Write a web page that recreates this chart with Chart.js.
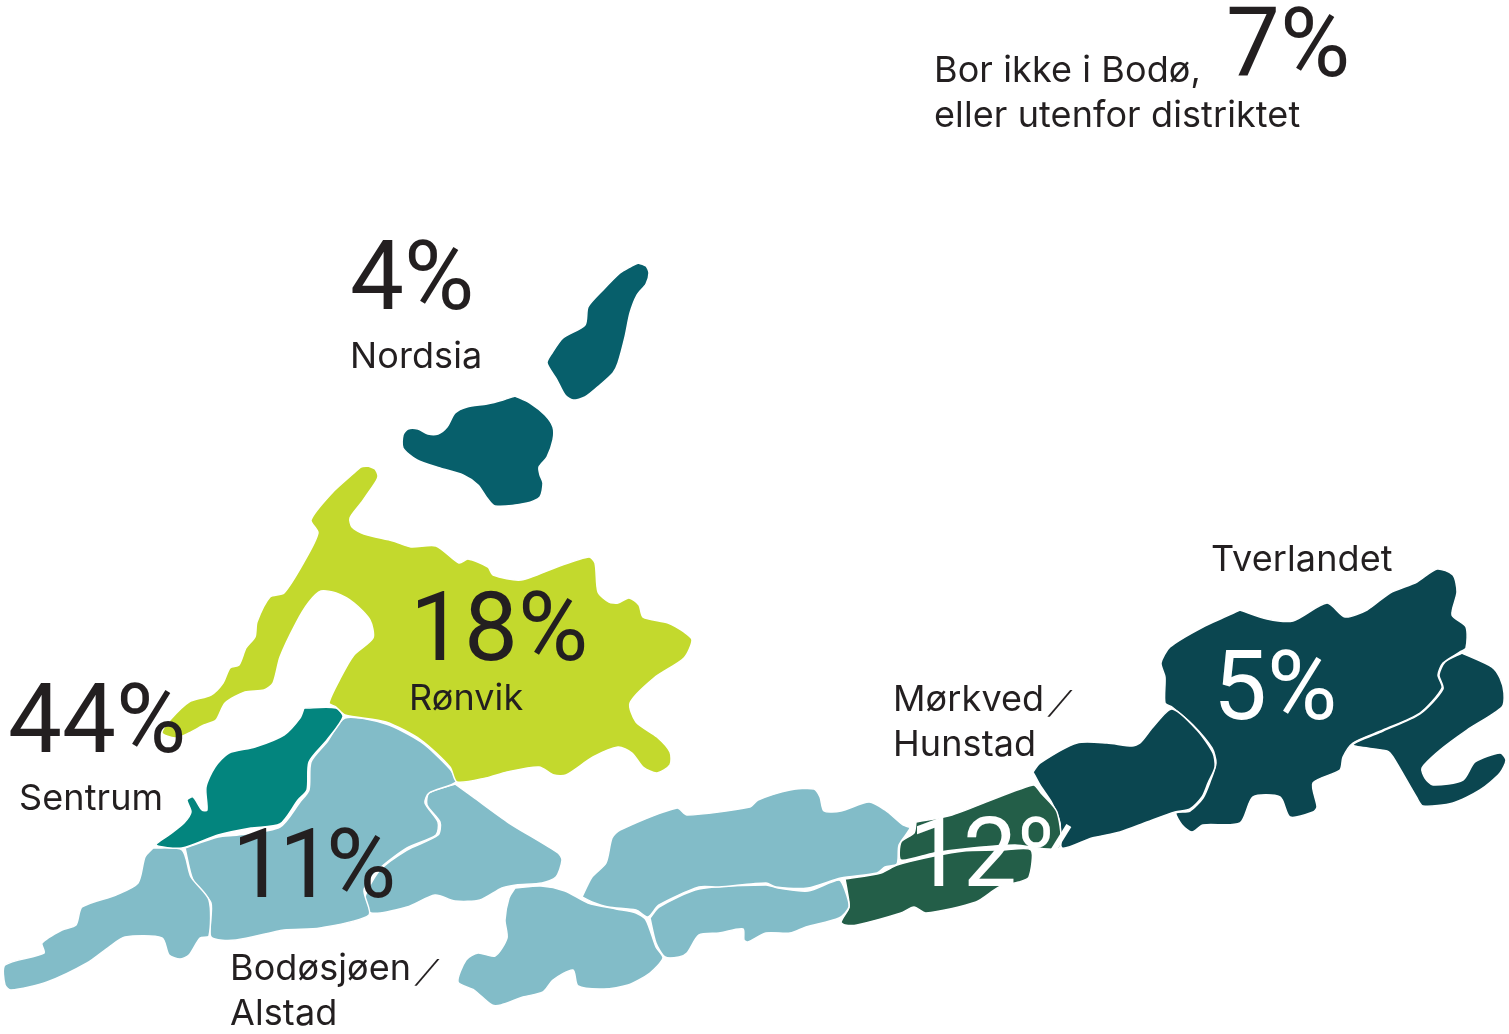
<!DOCTYPE html>
<html>
<head>
<meta charset="utf-8">
<title>Bodø</title>
<script src="https://cdn.jsdelivr.net/npm/chart.js@4"></script>
<style>
  html, body { margin: 0; padding: 0; background: #fff; }
  #wrap { width: 1509px; height: 1034px; }
</style>
</head>
<body>
<div id="wrap"><canvas id="map" width="1509" height="1034"></canvas></div>
<script>
// Outlines, in picture units
const nordsiaNorth = [[638,263],[646,266],[649,273],[646,284],[637,295],[630,313],[625,337],[618,363],[613,373],[600,385],[585,397],[573,400],[565,395],[557,380],[547,363],[552,353],[563,338],[585,325],[588,307],[603,290],[620,273],[630,267]];
const nordsiaSouth = [[515,396],[530,403],[545,415],[553,427],[553,440],[547,457],[539,467],[540,475],[543,483],[540,497],[527,503],[495,506],[487,498],[478,485],[463,475],[440,468],[417,460],[403,448],[403,435],[408,429],[418,429],[428,434],[438,434],[447,427],[455,413],[467,407],[487,404],[503,400]];
const ronvik = [[368,466],[375,469],[378,476],[375,483],[361,503],[350,518],[352,527],[364,534],[393,541],[411,547],[436,546],[459,563],[468,559],[488,567],[493,575],[521,580],[557,567],[589,557],[595,563],[598,592],[609,602],[618,603],[629,598],[639,605],[643,617],[668,623],[684,632],[692,640],[684,658],[654,678],[630,703],[636,722],[657,737],[670,752],[670,765],[657,773],[643,767],[632,753],[618,747],[593,757],[566,775],[554,775],[539,767],[507,772],[486,778],[457,782],[450,767],[421,740],[386,722],[345,715],[336,707],[329,703],[341,677],[354,655],[373,638],[370,620],[354,603],[336,593],[321,591],[309,602],[296,623],[280,657],[273,683],[264,690],[245,692],[225,703],[216,720],[204,725],[189,733],[175,738],[162,733],[170,720],[189,702],[211,695],[223,683],[230,668],[239,665],[246,648],[255,637],[257,622],[270,597],[284,593],[304,562],[318,533],[311,520],[332,493],[354,473],[361,467]];
const sentrum = [[304,708],[336,708],[343,717],[327,740],[309,762],[307,790],[298,800],[280,824],[251,828],[218,835],[182,848],[156,845],[169,835],[184,823],[191,812],[187,800],[193,797],[202,810],[207,810],[206,787],[215,767],[229,753],[255,747],[284,735],[300,718]];
const alstadWest = [[153,848],[182,850],[191,877],[209,900],[209,936],[200,938],[189,955],[180,959],[169,955],[162,938],[125,937],[109,947],[87,963],[47,982],[11,990],[5,985],[5,965],[44,953],[42,943],[62,930],[76,925],[82,907],[116,895],[138,883],[145,857]];
const alstadMid = [[185,848],[218,837],[238,835],[280,827],[300,802],[309,790],[311,762],[327,742],[345,718],[386,724],[421,742],[450,769],[456,782],[429,793],[425,803],[438,822],[436,835],[407,848],[378,870],[364,890],[369,915],[320,928],[284,930],[236,940],[211,937],[211,903],[193,880]];
const alstadEast = [[455,784],[473,797],[509,823],[558,853],[562,860],[556,877],[542,883],[516,885],[502,888],[480,900],[455,901],[435,895],[407,907],[371,913],[365,897],[380,870],[407,850],[438,835],[440,822],[427,805],[429,793]];
const hunstadBlob = [[515,888],[541,886],[565,891],[588,903],[616,909],[636,913],[646,920],[656,947],[663,958],[650,973],[628,985],[604,989],[578,986],[573,970],[553,980],[543,992],[523,997],[501,1005],[492,1005],[474,990],[458,982],[466,960],[478,953],[495,956],[507,938],[505,920],[509,898]];
const hunstadTop = [[582,897],[592,877],[606,863],[612,838],[620,830],[677,808],[687,815],[750,807],[758,800],[790,790],[814,789],[820,797],[824,811],[841,811],[869,802],[885,810],[903,825],[910,828],[899,845],[897,864],[885,867],[877,873],[841,878],[808,888],[776,887],[766,883],[719,887],[699,887],[659,905],[648,917],[636,910],[608,907],[592,902]];
const hunstadStrip = [[650,918],[659,907],[699,889],[766,885],[778,888],[808,891],[839,880],[845,890],[849,907],[839,918],[806,927],[790,933],[766,933],[748,942],[744,940],[743,929],[719,933],[699,935],[687,953],[679,957],[665,957],[656,943]];
const morkvedTop = [[916,822],[952,815],[1033,785],[1041,793],[1057,812],[1059,848],[1015,845],[972,848],[934,853],[901,860],[901,842],[914,833]];
const morkvedLow = [[845,879],[881,873],[897,865],[934,856],[964,851],[1003,850],[1031,850],[1029,877],[1019,882],[999,887],[976,902],[926,913],[914,907],[901,913],[857,925],[845,925],[841,922],[849,907],[847,890]];
const tverWest = [[1033,772],[1040,763],[1077,743],[1107,743],[1132,746],[1140,743],[1153,727],[1172,709],[1197,730],[1213,753],[1215,767],[1208,783],[1202,797],[1190,809],[1175,812],[1147,822],[1120,832],[1092,838],[1062,848],[1060,823],[1052,803],[1040,785]];
const tverMain = [[1240,610],[1267,619],[1293,621],[1327,603],[1345,617],[1367,610],[1390,593],[1417,582],[1437,569],[1453,575],[1457,592],[1452,615],[1466,627],[1466,648],[1460,652],[1443,663],[1438,675],[1442,688],[1420,713],[1383,730],[1353,743],[1343,757],[1340,770],[1313,783],[1317,807],[1313,812],[1290,817],[1280,797],[1253,797],[1240,823],[1203,825],[1192,832],[1182,825],[1176,813],[1190,811],[1203,798],[1210,782],[1216,763],[1212,748],[1193,725],[1172,707],[1165,703],[1165,677],[1161,663],[1170,647],[1203,627]];
const tverEast = [[1462,653],[1492,667],[1500,678],[1504,693],[1502,707],[1467,730],[1440,750],[1422,768],[1425,778],[1433,785],[1463,780],[1475,762],[1500,753],[1506,760],[1500,773],[1480,790],[1453,803],[1423,806],[1417,798],[1393,757],[1387,751],[1353,745],[1383,731],[1420,714],[1443,689],[1439,675],[1445,662]];

// Labels
const bigTexts = ["7%", "4%", "18%", "44%", "11%", "12%", "5%"];
const smallTexts = ["Bor ikke i Bodø,", "eller utenfor distriktet", "Nordsia", "Rønvik", "Sentrum", "Bodøsjøen/", "Alstad", "Mørkved/", "Hunstad", "Tverlandet"];

const BLUE = "#82bcc8";
const shapes = [
  [nordsiaNorth, "#075f6b"], [nordsiaSouth, "#075f6b"],
  [ronvik, "#c3d92d"],
  [sentrum, "#03857e"],
  [alstadWest, BLUE], [alstadMid, BLUE], [alstadEast, BLUE],
  [hunstadBlob, BLUE], [hunstadTop, BLUE], [hunstadStrip, BLUE],
  [morkvedTop, "#235e48"], [morkvedLow, "#235e48"],
  [tverWest, "#0b4650"], [tverMain, "#0b4650"], [tverEast, "#0b4650"]
];

const DARK = "#231f20";
// x, baseline, colour, letter spacing
const bigPlaces = [[1226,76,DARK,"0px"],[350,309,DARK,"0px"],[410,660,DARK,"0px"],[8,752,DARK,"0px"],[232,897,DARK,"-7px"],[909,886,"#fff","0px"],[1213,719,"#fff","0px"]];
const smallPlaces = [[934,82],[934,127],[350,368],[409,710],[19,810],[230,980],[230,1025],[893,711],[893,756],[1211,571]];

// the slash in the source font is wide and flat, so stretch it
function drawLabel(ctx, t, x, y) {
  if (!t.endsWith("/")) {
    ctx.fillText(t, x, y);
    return;
  }
  const word = t.slice(0, -1);
  ctx.fillText(word, x, y);
  const end = x + ctx.measureText(word).width;
  ctx.save();
  ctx.font = "100 36px Inter";
  ctx.translate(end, y + 2);
  ctx.scale(2.7, 0.85);
  ctx.fillText("/", 0, 0);
  ctx.restore();
}

const textPlugin = {
  id: "mapText",
  afterDatasetsDraw(chart) {
    const { ctx, scales } = chart;
    ctx.save();
    ctx.textAlign = "left";
    ctx.textBaseline = "alphabetic";
    ctx.font = "400 96px Roboto";
    bigTexts.forEach((t, i) => {
      ctx.fillStyle = bigPlaces[i][2];
      ctx.letterSpacing = bigPlaces[i][3];
      ctx.fillText(t, scales.x.getPixelForValue(bigPlaces[i][0]), scales.y.getPixelForValue(bigPlaces[i][1]));
    });
    ctx.font = "400 36px Inter";
    ctx.letterSpacing = "0.1px";
    ctx.fillStyle = DARK;
    smallTexts.forEach((t, i) => {
      drawLabel(ctx, t, scales.x.getPixelForValue(smallPlaces[i][0]), scales.y.getPixelForValue(smallPlaces[i][1]));
    });
    ctx.restore();
  }
};

new Chart(document.getElementById("map"), {
  type: "scatter",
  data: {
    datasets: shapes.map(s => ({
      data: s[0].concat([s[0][0]]).map(p => ({ x: p[0], y: p[1] })),
      showLine: true,
      fill: "shape",
      tension: 0.25,
      backgroundColor: s[1],
      borderColor: "#fff",
      borderWidth: 1.5,
      pointRadius: 0,
      clip: false
    }))
  },
  options: {
    responsive: false,
    animation: false,
    layout: { padding: 0 },
    plugins: { legend: { display: false }, tooltip: { enabled: false } },
    scales: {
      x: { type: "linear", min: 0, max: 1509, display: false },
      y: { type: "linear", min: 0, max: 1034, reverse: true, display: false }
    }
  },
  plugins: [textPlugin]
});
</script>
</body>
</html>
